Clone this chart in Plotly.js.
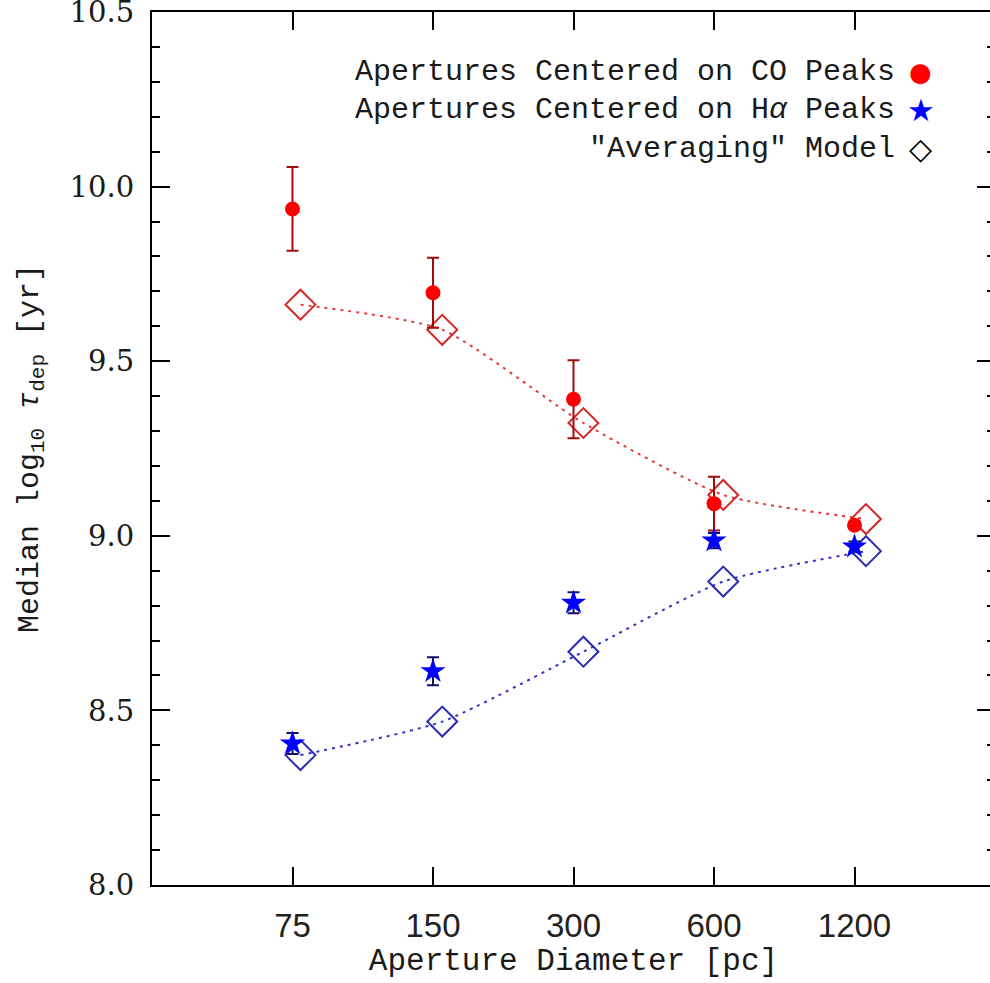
<!DOCTYPE html>
<html>
<head>
<meta charset="utf-8">
<script src="https://cdn.plot.ly/plotly-3.0.1.min.js"></script>
<style>
  body { margin: 0; overflow: hidden; background: #fff; }
  #chart { width: 1000px; height: 983px; }
</style>
</head>
<body>
<div id="chart"></div>
<script>
// aperture sizes (pc) and the measured medians
apertures = [75, 150, 300, 600, 1200]
coPeaks = [9.936, 9.696, 9.391, 9.092, 9.030]
coErr = [0.12, 0.10, 0.112, 0.077, 0.01]
haPeaks = [8.405, 8.612, 8.808, 8.986, 8.969]
haErr = [0.03, 0.04, 0.03, 0.022, 0.015]

// "averaging" model, plotted a little to the right of each aperture
modelX = [78, 157, 315, 628, 1270]
modelCO = [9.662, 9.590, 9.323, 9.117, 9.048]
modelHa = [8.372, 8.468, 8.668, 8.869, 8.956]

tickLabels = ['75', '150', '300', '600', '1200']
yTicks = [8.0, 8.5, 9.0, 9.5, 10.0, 10.5]

const monoFont = 'Liberation Mono, DejaVu Sans Mono, monospace'

let traces = [
  {
    type: 'scatter',
    mode: 'lines+markers',
    x: modelX,
    y: modelCO,
    line: { color: '#e23b3b', width: 2, dash: '3px,5px', shape: 'spline', smoothing: 0.6 },
    marker: { symbol: 'diamond-open', size: 23, color: '#d42828', line: { width: 2 } }
  },
  {
    type: 'scatter',
    mode: 'lines+markers',
    x: modelX,
    y: modelHa,
    line: { color: '#3434c4', width: 2, dash: '3px,5px', shape: 'spline', smoothing: 0.6 },
    marker: { symbol: 'diamond-open', size: 23, color: '#2a2ab4', line: { width: 2 } }
  },
  {
    type: 'scatter',
    mode: 'markers',
    x: apertures,
    y: coPeaks,
    error_y: { type: 'data', array: coErr, color: '#a00c0c', thickness: 2, width: 6 },
    marker: { symbol: 'circle', size: 15, color: '#ff0000' }
  },
  {
    type: 'scatter',
    mode: 'markers',
    x: apertures,
    y: haPeaks,
    error_y: { type: 'data', array: haErr, color: '#10106a', thickness: 2, width: 6 },
    marker: { symbol: 'star', size: 19, color: '#0000ff' }
  }
]

// legend drawn by hand: text right-aligned, symbol on the right
let legendRows = [
  { text: 'Apertures Centered on CO Peaks', sym: '●', color: '#ff0000', y: 0.9313, size: 26 },
  { text: 'Apertures Centered on H<i>α</i> Peaks', sym: '★', color: '#0000ff', y: 0.8877, size: 31 },
  { text: '"Averaging" Model', sym: '<b>◇</b>', color: '#000000', y: 0.8431, size: 30 }
]
let annotations = []
legendRows.forEach(row => {
  annotations.push({
    xref: 'paper', yref: 'paper', x: 0.8837, y: row.y,
    xanchor: 'right', yanchor: 'middle', showarrow: false,
    text: row.text,
    font: { family: monoFont, size: 30, color: '#1a1a1a' }
  })
  annotations.push({
    xref: 'paper', yref: 'paper', x: 0.9122, y: row.y,
    xanchor: 'center', yanchor: 'middle', showarrow: false,
    text: row.sym,
    font: { family: 'DejaVu Sans', size: row.size, color: row.color }
  })
})

Plotly.newPlot('chart', traces, {
  width: 1000,
  height: 983,
  margin: { l: 152, r: 5, t: 12, b: 98 },
  showlegend: false,
  paper_bgcolor: '#ffffff',
  plot_bgcolor: '#ffffff',
  xaxis: {
    type: 'log',
    range: [Math.log10(37.5), Math.log10(2400)],
    tickvals: apertures,
    ticktext: tickLabels,
    ticks: 'inside',
    ticklen: 18,
    tickwidth: 2,
    tickcolor: '#000',
    showline: true,
    linecolor: '#000',
    linewidth: 2,
    mirror: 'ticks',
    showgrid: false,
    zeroline: false,
    ticklabelstandoff: 10,
    tickfont: { family: 'Liberation Sans', size: 33, color: '#222' },
    title: {
      text: 'Aperture Diameter [pc]',
      font: { family: monoFont, size: 31, color: '#1a1a1a' },
      standoff: 6
    }
  },
  yaxis: {
    range: [8, 10.5],
    tickvals: yTicks,
    tickformat: '.1f',
    ticks: 'inside',
    ticklen: 18,
    tickwidth: 2,
    tickcolor: '#000',
    minor: { dtick: 0.1, ticks: 'inside', ticklen: 8, tickwidth: 2, tickcolor: '#000' },
    showline: true,
    linecolor: '#000',
    linewidth: 2,
    mirror: 'ticks',
    showgrid: false,
    zeroline: false,
    ticklabelstandoff: 10,
    ticklabeloverflow: 'allow',
    tickfont: { family: 'DejaVu Serif, serif', size: 29, color: '#1a1a1a' },
    title: {
      text: 'Median log<sub>10</sub> <i>τ</i><sub>dep</sub> [yr]',
      font: { family: monoFont, size: 30, color: '#1a1a1a' },
      standoff: 22
    }
  },
  annotations: annotations
}, { displayModeBar: false, responsive: false })
</script>
</body>
</html>
